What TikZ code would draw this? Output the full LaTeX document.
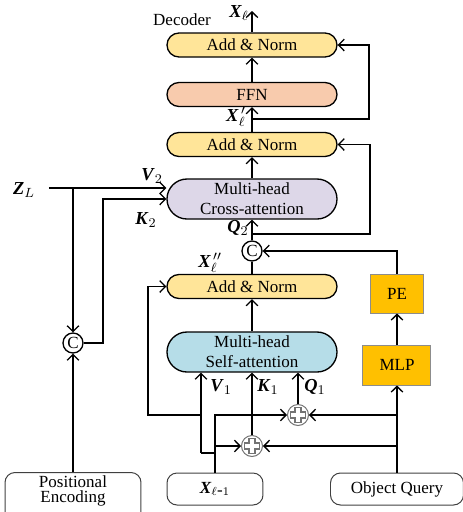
\documentclass[tikz,border=0pt]{standalone}
\usepackage{fontspec}
\setmainfont{Liberation Serif}
\usetikzlibrary{arrows.meta}

\newcommand{\bX}{\textbf{\textit{X}}}
\newcommand{\bZ}{\textbf{\textit{Z}}}
\newcommand{\bV}{\textbf{\textit{V}}}
\newcommand{\bK}{\textbf{\textit{K}}}
\newcommand{\bQ}{\textbf{\textit{Q}}}

\definecolor{normyellow}{RGB}{255,229,153}
\definecolor{ffnpeach}{RGB}{248,203,173}
\definecolor{crosslilac}{RGB}{221,215,232}
\definecolor{selfblue}{RGB}{182,221,232}
\definecolor{mlpgold}{RGB}{255,192,0}

\begin{document}
\begin{tikzpicture}[x=0.6pt, y=-0.6pt, line width=0.8pt,
    font=\fontsize{10.2}{12}\selectfont,
    >={Straight Barb[length=3.4pt,width=7pt]},
    addnorm/.style={draw, rounded corners=7.2pt, fill=normyellow, minimum width=102pt, minimum height=14.4pt, inner sep=1pt},
    ffnbox/.style={addnorm, fill=ffnpeach},
    attnbox/.style={draw, rounded corners=12pt, minimum width=102pt, minimum height=24pt, inner sep=1pt, align=center},
    goldbox/.style={draw=black!45, line width=0.6pt, fill=mlpgold, inner sep=0pt},
    inbox/.style={draw=black!75, line width=0.6pt, rounded corners=6pt, minimum height=19.2pt, inner sep=1pt},
    catnode/.style={circle, draw, fill=white, minimum size=12pt, inner sep=0pt},
    plusnode/.style={circle, draw=black!55, line width=0.6pt, fill=white, minimum size=12.6pt, inner sep=0pt},
    lbl/.style={inner sep=0pt, font=\fontsize{11}{12}\selectfont}]
    \useasboundingbox (0,0) rectangle (463,512);

    % Decoder blocks
    \node[addnorm] (an3) at (252,45) {Add \& Norm};
    \node[ffnbox] (ffn) at (252,94.5) {FFN};
    \node[addnorm] (an2) at (252,144.5) {Add \& Norm};
    \node[attnbox, fill=crosslilac] (ca) at (252,199) {Multi-head\\Cross-attention};
    \node[catnode] (c1) at (252,251) {C};
    \node[addnorm] (an1) at (252,286.5) {Add \& Norm};
    \node[attnbox, fill=selfblue] (sa) at (252,352) {Multi-head\\Self-attention};

    % Query path
    \node[goldbox, minimum width=31.8pt, minimum height=23.4pt] (pe) at (397,293.5) {PE};
    \node[goldbox, minimum width=40.8pt, minimum height=24pt] (mlp) at (397,365) {MLP};
    \node[plusnode] (p1) at (298,415) {};
    \node[plusnode] (p2) at (252,446) {};
    \foreach \p in {p1,p2} {
        \draw[black!55, line width=4.6pt] ([xshift=-5pt]\p.center) -- ([xshift=5pt]\p.center)
            ([yshift=-5pt]\p.center) -- ([yshift=5pt]\p.center);
        \draw[white, line width=2.8pt] ([xshift=-4.3pt]\p.center) -- ([xshift=4.3pt]\p.center)
            ([yshift=-4.3pt]\p.center) -- ([yshift=4.3pt]\p.center);
    }
    \node[catnode] (c2) at (73,343) {C};

    % Inputs
    \node[inbox, minimum width=57.6pt] (xin) at (215,489) {$\bX_{\ell\textrm{-}1}$};
    \node[inbox, minimum width=79.8pt] (oq) at (397,489) {Object Query};
    \node[inbox, minimum width=81.6pt, anchor=north, align=center, font=\fontsize{10.2}{9}\selectfont, inner ysep=2.2pt, text depth=24pt] (pos) at (73,472) {Positional\\Encoding};
    \node[lbl] (zl) at (24,190) {$\bZ_{L}$};

    % Labels
    \node[inner sep=0pt] (dec) at (182,20) {Decoder};
    \node[lbl] (xout) at (239,13) {$\bX_{\ell}$};
    \node[lbl] (xp) at (236,117) {$\bX_{\ell}^{\,\prime}$};
    \node[lbl] (xpp) at (210,263) {$\bX_{\ell}^{\,\prime\prime}$};
    \node[lbl] (v2l) at (152,176) {$\bV_{2}$};
    \node[lbl] (k2l) at (146,220) {$\bK_{2}$};
    \node[lbl] (q2l) at (238,228) {$\bQ_{2}$};
    \node[lbl] (v1l) at (221,387) {$\bV_{1}$};
    \node[lbl] (k1l) at (268,387) {$\bK_{1}$};
    \node[lbl] (q1l) at (315,387) {$\bQ_{1}$};

    \coordinate (out) at (252,11);
    \coordinate (r3) at (252,119);
    \coordinate (r3c) at (369,119);
    \coordinate (r2) at (252,234);
    \coordinate (r2c) at (370,234);
    \coordinate (v1) at (201,453);
    \coordinate (r1c) at (148,415);
    \coordinate (zs) at (49,188);
    \coordinate (k2c) at (103,199);

    % Main stack
    \draw[->] (an3.north) -- (out);
    \draw[->] (ffn) -- (an3);
    \draw[->] (an2) -- (ffn);
    \draw[->] (r3) -- (r3c) |- (an3.east);
    \draw[->] (ca) -- (an2);
    \draw[->] (r2) -- (r2c) |- (an2.east);
    \draw[->] (c1) -- (ca);
    \draw (an1) -- (c1);
    \draw[->] (sa) -- (an1);
    \draw[->] (pe.north) |- (c1.east);
    \draw[->] (mlp) -- (pe);

    % Self-attention inputs
    \draw[->] (xin.north) -- (xin.north |- p1) -- (p1.west);
    \draw[->] (xin.north |- p2) -- (p2.west);
    \draw (xin.north |- v1) -- (v1);
    \draw[->] (v1) -- (v1 |- sa.south);
    \draw[->] (v1 |- p1) -- (r1c) |- (an1.west);
    \draw[->] (p2.north) -- (sa.south);
    \draw[->] (p1.north) -- (p1.north |- sa.south);
    \draw[->] (oq.north) -- (mlp.south);
    \draw[->] (oq.north |- p1) -- (p1.east);
    \draw[->] (oq.north |- p2) -- (p2.east);

    % Cross-attention inputs
    \draw[->] (zs) -- (zs -| ca.west);
    \draw[->] (zs -| c2) -- (c2.north);
    \draw[->] (c2.east) -| (k2c) -- (k2c -| ca.west);
    \draw[->] (pos.north) -- (c2.south);
\end{tikzpicture}
\end{document}
